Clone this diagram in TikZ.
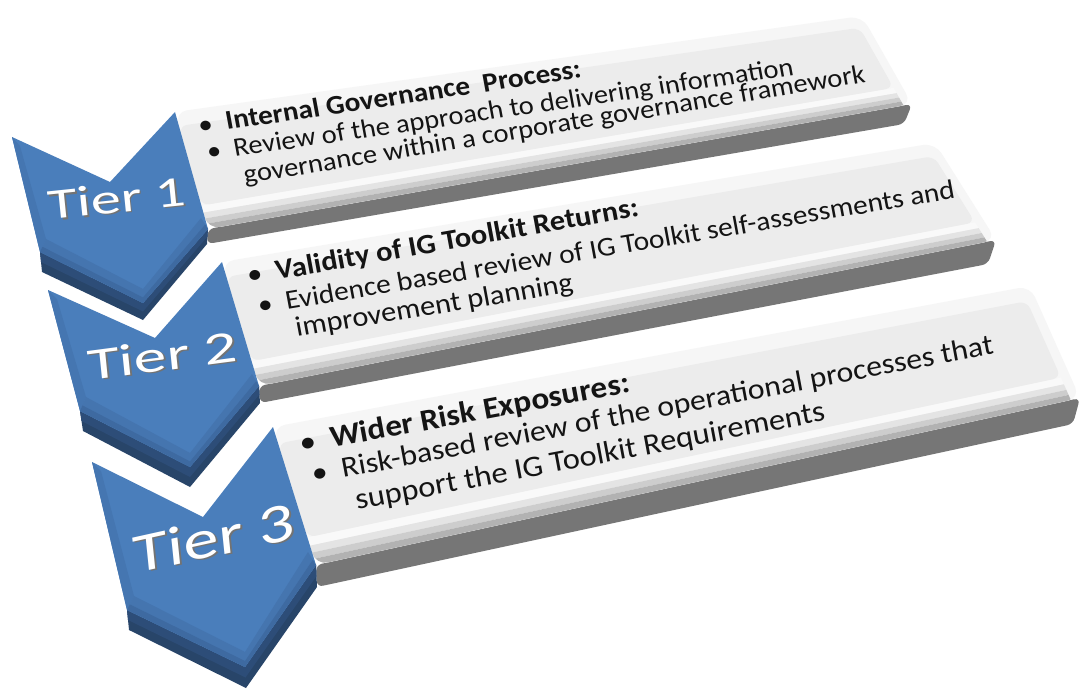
\documentclass[tikz,border=0pt]{standalone}
\usepackage{fontspec}
\setmainfont{Carlito}
\usetikzlibrary{calc}

% palette
\definecolor{chevface}{HTML}{4A7EBB}
\definecolor{chevrim}{HTML}{4576B1}
\definecolor{chevbevA}{HTML}{4575AF}
\definecolor{chevbevB}{HTML}{3E6AA1}
\definecolor{chevsideA}{HTML}{2D4D78}
\definecolor{chevsideB}{HTML}{284569}
\definecolor{boxrim}{HTML}{F6F6F6}
\definecolor{boxface}{HTML}{ECECEC}
\definecolor{boxside}{HTML}{767676}
\definecolor{bevA}{HTML}{F9F9F9}
\definecolor{bevB}{HTML}{E4E4E4}
\definecolor{bevC}{HTML}{CDCDCD}
\definecolor{bevD}{HTML}{B2B2B2}

\tikzset{
  itemtext/.style={anchor=base west, inner sep=0pt, text=black!92},
  tiertext/.style={anchor=base west, inner sep=0pt, text=white},
  tiershadow/.style={anchor=base west, inner sep=0pt, text=black!55},
}

% one line of bullet text, laid on the tilted plane
% #1 name, #2 x, #3 y, #4 slope, #5 size, #6 text
\newcommand\itemline[6]{%
  \begin{scope}[shift={(#2,#3)}, yslant=#4, xslant=-0.18, yscale=0.95]
    \node[itemtext, transform shape, font=\fontsize{#5}{#5}\selectfont] (#1) at (0,0) {#6};
  \end{scope}}

% tier caption with its drop shadow
% #1 name, #2 x, #3 y, #4 slope, #5 size, #6 vertical scale, #7 text
\newcommand\tierlabel[7]{%
  \begin{scope}[shift={(#2,#3)}, yslant=#4, xslant=-0.1, yscale=#6]
    \node[tiershadow, transform shape, font=\fontsize{#5}{#5}\selectfont] (#1s) at (1.8,1.8) {#7};
    \node[tiertext, transform shape, font=\fontsize{#5}{#5}\selectfont] (#1) at (0,0) {#7};
  \end{scope}}

\newcommand\bul{\llap{\textbullet\hspace{0.45em}}}

% bevelled grey slab
\newcommand\drawslab[1]{%
  \fill[boxside, rounded corners=6pt] (b#1-BL) -- (b#1-BR) -- (b#1-BR2) -- (b#1-BL2) -- cycle;
  \fill[boxrim, rounded corners=12pt] (b#1-TL) -- (b#1-TR) -- (b#1-BR) -- (b#1-BL) -- cycle;
  \coordinate (b#1-rT) at ($(b#1-TR)!0.012!(b#1-TL)$);
  \coordinate (b#1-rB) at ($(b#1-BR)!0.012!(b#1-BL)$);
  \begin{scope}
    \clip[rounded corners=12pt] (b#1-TL) -- (b#1-TR) -- (b#1-BR) -- (b#1-BL) -- cycle;
    \foreach \ta/\tb/\cc in {0.80/0.86/bevA, 0.86/0.91/bevB, 0.91/0.955/bevC, 0.955/1.01/bevD}{
      \fill[\cc] ($(b#1-TL)!\ta!(b#1-BL)$) -- ($(b#1-rT)!\ta!(b#1-rB)$)
        -- ($(b#1-rT)!\tb!(b#1-rB)$) -- ($(b#1-TL)!\tb!(b#1-BL)$) -- cycle;
    }
  \end{scope}
  \fill[boxface, rounded corners=8pt] ($(b#1-TL)!0.12!(b#1-BL)$) -- ($(b#1-rT)!0.12!(b#1-rB)$)
    -- ($(b#1-rT)!0.80!(b#1-rB)$) -- ($(b#1-TL)!0.80!(b#1-BL)$) -- cycle;
}

% bevelled blue chevron
\newcommand\drawchevron[1]{%
  \fill[chevsideB] (c#1-F) -- (c#1-E) -- (c#1-D) -- (c#1-D2) -- (c#1-E2) -- (c#1-F2) -- cycle;
  \fill[chevsideA] (c#1-F) -- (c#1-E) -- (c#1-D) -- ($(c#1-D)!0.5!(c#1-D2)$) -- ($(c#1-E)!0.5!(c#1-E2)$) -- ($(c#1-F)!0.5!(c#1-F2)$) -- cycle;
  \fill[chevface] (c#1-A) -- (c#1-B) -- (c#1-C) -- (c#1-D) -- (c#1-E) -- (c#1-F) -- cycle;
  \fill[chevrim] (c#1-A) -- (c#1-Ai) -- (c#1-Fi) -- (c#1-F) -- cycle;
  \fill[chevbevA] (c#1-F) -- (c#1-E) -- (c#1-D) -- (c#1-Di) -- (c#1-Ei) -- (c#1-Fi) -- cycle;
  \fill[chevbevB] (c#1-F) -- (c#1-E) -- (c#1-D) -- ($(c#1-D)!0.4!(c#1-Di)$) -- ($(c#1-E)!0.4!(c#1-Ei)$) -- ($(c#1-F)!0.4!(c#1-Fi)$) -- cycle;
}

\begin{document}
\begin{tikzpicture}[x=1pt, y=-1pt]
\useasboundingbox (0,0) rectangle (1083,690);
\fill[white] (0,0) rectangle (1083,690);

% ---- slab corners ----
\coordinate (b1-TL) at (175,112);  \coordinate (b1-TR) at (862,16);
\coordinate (b1-BR) at (912,104);  \coordinate (b1-BL) at (208,229);
\coordinate (b1-BR2) at (904,124); \coordinate (b1-BL2) at (207,244);

\coordinate (b2-TL) at (222,262);  \coordinate (b2-TR) at (935,143);
\coordinate (b2-BR) at (996,240);  \coordinate (b2-BL) at (259,386);
\coordinate (b2-BR2) at (988,264); \coordinate (b2-BL2) at (260,403);

\coordinate (b3-TL) at (273,427);  \coordinate (b3-TR) at (1030,286);
\coordinate (b3-BR) at (1080,398); \coordinate (b3-BL) at (316,565);
\coordinate (b3-BR2) at (1073,424); \coordinate (b3-BL2) at (317,587);

% ---- chevron corners ----
\coordinate (c1-A) at (12,137);  \coordinate (c1-B) at (110,182); \coordinate (c1-C) at (175,112);
\coordinate (c1-D) at (208,229); \coordinate (c1-E) at (143,303); \coordinate (c1-F) at (40,252);
\coordinate (c1-D2) at (207,244); \coordinate (c1-E2) at (143,320); \coordinate (c1-F2) at (42,272);
\coordinate (c1-Ai) at (20,146); \coordinate (c1-Fi) at (46,239);
\coordinate (c1-Ei) at (143,289); \coordinate (c1-Di) at (201,218);

\coordinate (c2-A) at (48,290);  \coordinate (c2-B) at (155,338); \coordinate (c2-C) at (222,262);
\coordinate (c2-D) at (259,386); \coordinate (c2-E) at (190,467); \coordinate (c2-F) at (80,411);
\coordinate (c2-D2) at (260,403); \coordinate (c2-E2) at (190,487); \coordinate (c2-F2) at (83,431);
\coordinate (c2-Ai) at (57,299); \coordinate (c2-Fi) at (86,397);
\coordinate (c2-Ei) at (190,453); \coordinate (c2-Di) at (252,374);

\coordinate (c3-A) at (92,462);  \coordinate (c3-B) at (203,517); \coordinate (c3-C) at (273,427);
\coordinate (c3-D) at (316,565); \coordinate (c3-E) at (245,667); \coordinate (c3-F) at (127,610);
\coordinate (c3-D2) at (317,587); \coordinate (c3-E2) at (246,688); \coordinate (c3-F2) at (129,630);
\coordinate (c3-Ai) at (101,471); \coordinate (c3-Fi) at (134,596);
\coordinate (c3-Ei) at (245,652); \coordinate (c3-Di) at (308,552);

% ---- slabs ----
\drawslab{1}
\drawslab{2}
\drawslab{3}

% ---- slab texts ----
\itemline{l11}{227}{130}{0.1477}{28.8}{\bul\bfseries Internal Governance~~Process:}
\itemline{l12}{235}{157}{0.1459}{28.1}{\bul Review of the approach to delivering information}
\itemline{l13}{245}{184}{0.1638}{28.2}{governance within a corporate governance framework}

\itemline{l21}{277}{280}{0.1763}{30.0}{\bul\bfseries Validity of IG Toolkit Returns:}
\itemline{l22}{287}{310}{0.1673}{29.0}{\bul Evidence based review of IG Toolkit self-assessments and}
\itemline{l23}{297}{337}{0.1638}{30.0}{improvement planning}

\itemline{l31}{332}{448}{0.1871}{32.6}{\bul\bfseries Wider Risk Exposures:}
\itemline{l32}{343}{478}{0.1908}{31.2}{\bul Risk-based review of the operational processes that}
\itemline{l33}{357}{510}{0.1908}{31.9}{support the IG Toolkit Requirements}

% ---- chevrons ----
\drawchevron{1}
\drawchevron{2}
\drawchevron{3}

% ---- tier captions ----
\tierlabel{t1}{49}{220}{0.105}{60}{0.72}{Tier 1}
\tierlabel{t2}{89}{381}{0.132}{65}{0.70}{Tier 2}
\tierlabel{t3}{135}{574}{0.222}{70}{0.80}{Tier 3}
\end{tikzpicture}
\end{document}
